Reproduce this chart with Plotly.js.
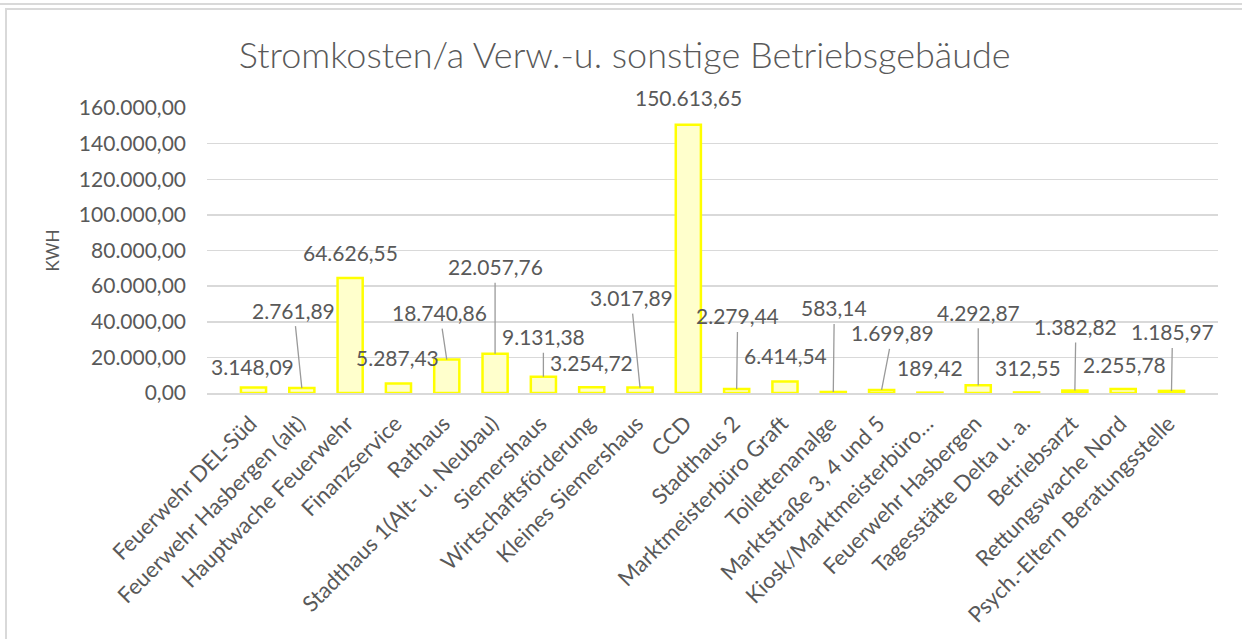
<!DOCTYPE html>
<html>
<head>
<meta charset="utf-8">
<script src="https://cdn.plot.ly/plotly-3.0.1.min.js"></script>
<style>
  html, body { margin: 0; padding: 0; background: #ffffff; }
  #wrap { position: relative; width: 1242px; height: 639px; overflow: hidden; }
  #chart { position: absolute; left: 0; top: 0; width: 1242px; height: 639px; }
  .bline { position: absolute; background: #d9d9d9; pointer-events: none; z-index: 5; }
</style>
</head>
<body>
<div id="wrap">
  <div id="chart"></div>
  <div class="bline" style="left:0;top:3px;width:1242px;height:2px;"></div>
  <div class="bline" style="left:5px;top:8px;width:1237px;height:2px;"></div>
  <div class="bline" style="left:5px;top:8px;width:2px;height:631px;"></div>
</div>
<script>
// ---- data ----
const categories = [
  "Feuerwehr DEL-Süd",
  "Feuerwehr Hasbergen (alt)",
  "Hauptwache Feuerwehr",
  "Finanzservice",
  "Rathaus",
  "Stadthaus 1(Alt- u. Neubau)",
  "Siemershaus",
  "Wirtschaftsförderung",
  "Kleines Siemershaus",
  "CCD",
  "Stadthaus 2",
  "Marktmeisterbüro Graft",
  "Toilettenanalge",
  "Marktstraße 3, 4 und 5",
  "Kiosk/Marktmeisterbüro…",
  "Feuerwehr Hasbergen",
  "Tagesstätte Delta u. a.",
  "Betriebsarzt",
  "Rettungswache Nord",
  "Psych.-Eltern Beratungsstelle"
];
const kwh = [
  3148.09, 2761.89, 64626.55, 5287.43, 18740.86,
  22057.76, 9131.38, 3254.72, 3017.89, 150613.65,
  2279.44, 6414.54, 583.14, 1699.89, 189.42,
  4292.87, 312.55, 1382.82, 2255.78, 1185.97
];
const chartTitle = "Stromkosten/a Verw.-u. sonstige Betriebsgebäude";
const yTitle = "KWH";
const yTickValues = [0, 20000, 40000, 60000, 80000, 100000, 120000, 140000, 160000];

// ---- label placement (pixel offsets from the bar top; layout only) ----
const labelDx = [-1, -8, 0, -1, -7, 0, 0, 0, -9, 0, 1, 1, 1, 11, 0, 0, 1, 1, 1, 1];
const labelDy = [-21, -78, -25, -26, -47, -87, -40, -25, -90, -27, -73, -26, -84, -57, -25, -73, -25, -64, -24, -59];
const hasLeader = [false, true, false, false, true, true, true, false, true, false, true, false, true, true, false, true, false, true, false, true];

function fmtDE(v) {
  const p = v.toFixed(2).split(".");
  const intPart = p[0].replace(/\B(?=(\d{3})+(?!\d))/g, ".");
  return intPart + "," + p[1];
}

const FONT = "Lato, 'Open Sans', sans-serif";
const GRAY = "#595959";

const trace = {
  type: "bar",
  x: categories,
  y: kwh,
  marker: { color: "#FFFFCC", line: { color: "#FFFF00", width: 2.5 } },
  hoverinfo: "skip"
};

const annotations = categories.map((c, i) => ({
  x: c,
  y: kwh[i],
  xref: "x",
  yref: "y",
  text: fmtDE(kwh[i]),
  showarrow: true,
  arrowhead: 0,
  arrowwidth: 1.3,
  arrowcolor: hasLeader[i] ? "#9a9a9a" : "rgba(0,0,0,0)",
  ax: labelDx[i],
  ay: labelDy[i],
  borderpad: 3,
  font: { family: FONT, size: 21, color: GRAY }
}));

const layout = {
  width: 1242,
  height: 639,
  margin: { l: 207, r: 24, t: 108, b: 246, autoexpand: false },
  paper_bgcolor: "#ffffff",
  plot_bgcolor: "#ffffff",
  separators: ",.",
  showlegend: false,
  bargap: 0.48,
  title: {
    text: chartTitle,
    x: 0.503,
    xref: "container",
    xanchor: "center",
    y: 1 - 55 / 639,
    yref: "container",
    yanchor: "middle",
    font: { family: FONT, size: 36, weight: 300, color: GRAY }
  },
  xaxis: {
    type: "category",
    tickangle: -45,
    showgrid: false,
    showline: true,
    linecolor: "#d9d9d9",
    linewidth: 2,
    ticks: "",
    automargin: false,
    ticklabelshift: -3,
    ticklabelstandoff: 7,
    tickfont: { family: FONT, size: 22, color: GRAY }
  },
  yaxis: {
    range: [0, 160000],
    tickvals: yTickValues,
    tickformat: ",.2f",
    showgrid: true,
    gridcolor: "#d9d9d9",
    gridwidth: 1.5,
    zeroline: false,
    showline: false,
    ticks: "",
    ticklabelstandoff: 20,
    automargin: false,
    tickfont: { family: FONT, size: 21, color: GRAY },
    title: {
      text: yTitle,
      standoff: 14,
      font: { family: FONT, size: 17, color: GRAY }
    }
  },
  annotations: annotations
};

Plotly.newPlot("chart", [trace], layout, { staticPlot: true, displayModeBar: false });
</script>
</body>
</html>
